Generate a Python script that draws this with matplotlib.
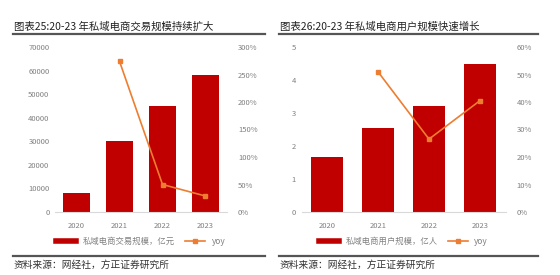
import matplotlib
matplotlib.use('Agg')
import matplotlib.pyplot as plt
from matplotlib.lines import Line2D

plt.rcParams['font.family'] = ['Noto Sans CJK SC', 'DejaVu Sans']

years = ['2020', '2021', '2022', '2023']

# left: transaction scale (亿元) and yoy (%)
trade = [8000, 30000, 45000, 58000]
trade_yoy = [None, 274, 50, 29]

# right: users (亿人) and yoy (%)
users = [1.68, 2.54, 3.2, 4.5]
users_yoy = [None, 51, 26.5, 40.5]

RED, ORANGE, GRAY = '#C00000', '#ED7D31', '#808080'

fig = plt.figure(figsize=(5.6, 2.75), dpi=100, facecolor='white')


def panel(rect, bars, yoy, ymax, ystep, rmax, rstep, bar_label, title,
          title_x, line_x0, line_x1):
    ax = fig.add_axes(rect)
    x = range(len(years))
    ax.bar(x, bars, width=0.63, color=RED, zorder=2)
    ax.set_xlim(-0.5, 3.5)
    ax.set_ylim(0, ymax)
    ax.set_yticks([i * ystep for i in range(int(round(ymax / ystep)) + 1)])
    ax.set_xticks(list(x))
    ax.set_xticklabels(years)
    for s in ['top', 'left', 'right']:
        ax.spines[s].set_visible(False)
    ax.spines['bottom'].set_color('#d9d9d9')
    ax.tick_params(length=0, labelsize=5.5, colors=GRAY, pad=4)
    ax.tick_params(axis='x', pad=7)

    ax2 = ax.twinx()
    xs = [i for i, v in enumerate(yoy) if v is not None]
    ys = [v for v in yoy if v is not None]
    ax2.plot(xs, ys, color=ORANGE, linewidth=1.2, marker='s', markersize=3.2, zorder=3)
    ax2.set_ylim(0, rmax)
    ax2.set_yticks([i * rstep for i in range(int(round(rmax / rstep)) + 1)])
    ax2.set_yticklabels(['%d%%' % (i * rstep) for i in range(int(round(rmax / rstep)) + 1)])
    for s in ax2.spines.values():
        s.set_visible(False)
    ax2.tick_params(length=0, labelsize=5.5, colors=GRAY, pad=8)

    handles = [Line2D([], [], color=RED, linewidth=4),
               Line2D([], [], color=ORANGE, linewidth=1.2, marker='s', markersize=3.2)]
    ax.legend(handles, [bar_label, 'yoy'], loc='center', bbox_to_anchor=(0.5, -0.18),
              ncol=2, frameon=False, fontsize=6, labelcolor=GRAY,
              handlelength=2.4, handletextpad=0.8, columnspacing=1.2)

    fig.text(title_x / 560, 1 - 27 / 275, title, fontsize=7.5, color='#222222', va='center')
    fig.add_artist(Line2D([line_x0 / 560, line_x1 / 560], [1 - 34 / 275] * 2,
                          color='#555555', linewidth=1.6))
    fig.add_artist(Line2D([line_x0 / 560, line_x1 / 560], [1 - 256 / 275] * 2,
                          color='#555555', linewidth=1.6))
    fig.text(title_x / 560, 1 - 265 / 275, '资料来源：网经社，方正证券研究所',
             fontsize=7, color='#333333', va='center', style='italic')


panel([55 / 560, 1 - 212 / 275, 172 / 560, 165 / 275], trade, trade_yoy,
      70000, 10000, 300, 50, '私域电商交易规模，亿元',
      '图表25:20-23 年私域电商交易规模持续扩大', 14, 13, 265)
panel([301.5 / 560, 1 - 212 / 275, 204 / 560, 165 / 275], users, users_yoy,
      5, 1, 60, 10, '私域电商用户规模，亿人',
      '图表26:20-23 年私域电商用户规模快速增长', 280, 279, 538)

fig.savefig('out.png', dpi=100, facecolor='white')
